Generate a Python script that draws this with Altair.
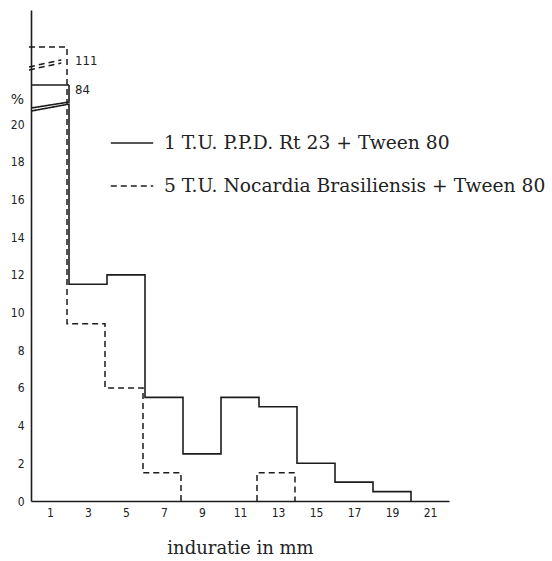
import altair as alt
import pandas as pd

# ---- data ----
bin_edges = [0, 2, 4, 6, 8, 10, 12, 14, 16, 18, 20]
solid_vals = [84, 11.5, 12.0, 5.5, 2.5, 5.5, 5.0, 2.0, 1.0, 0.5]
dashed_vals = [111, 9.4, 6.0, 1.5, 0, 0, 1.5, 0, 0, 0]
series_names = ["1 T.U. P.P.D. Rt 23 + Tween 80",
                "5 T.U. Nocardia Brasiliensis + Tween 80"]
x_tick_vals = [1, 3, 5, 7, 9, 11, 13, 15, 17, 19, 21]
y_tick_vals = [0, 2, 4, 6, 8, 10, 12, 14, 16, 18, 20]
# axis break: (value at left, value at right) of the slanted cut lines
solid_cut = [(20.69, 21.06), (20.85, 21.17)]
dashed_cut = [(94.7, 99.6), (96.8, 101.8)]
dashed_cut_end = 1.7
top_labels = ["111", "84"]

# broken y scale (piecewise linear)
y_domain = [0, 21.33, 84, 111, 130]
y_range = [491, 89, 75, 37, 0]

INK = "#1c1c1c"


def step_pieces(vals, head):
    pieces = []
    cur = list(head)
    for i in range(1, len(vals)):
        v = vals[i]
        if v > 0:
            if cur is None:
                cur = [(bin_edges[i], 0)]
            cur += [(bin_edges[i], v), (bin_edges[i + 1], v)]
        else:
            if cur is not None:
                cur.append((bin_edges[i], 0))
                pieces.append(cur)
                cur = None
    if cur is not None:
        cur.append((bin_edges[len(vals)], 0))
        pieces.append(cur)
    return pieces


rows = []


def add(series, name, pts):
    for k, (x, y) in enumerate(pts):
        rows.append({"x": x, "y": y, "series": series, "piece": name, "i": k})


# solid series
add(series_names[0], "s_top", [(0, solid_vals[0]), (2, solid_vals[0]),
                                (2, solid_cut[1][1]), (0, solid_cut[1][0])])
for j, p in enumerate(step_pieces(solid_vals, [(0, solid_cut[0][0]), (2, solid_cut[0][1])])):
    add(series_names[0], f"s_main{j}", p)

# dashed series
for j, p in enumerate(step_pieces(dashed_vals, [(0, dashed_vals[0]), (2, dashed_vals[0])])):
    add(series_names[1], f"d_main{j}", p)
for j, (a, b) in enumerate(dashed_cut):
    add(series_names[1], f"d_cut{j}", [(0, a), (dashed_cut_end, b)])

df = pd.DataFrame(rows)
lab = pd.DataFrame({"x": [2, 2], "y": [dashed_vals[0], solid_vals[0]], "t": top_labels})

x_scale = alt.Scale(domain=[0, 22], nice=False, zero=False)
y_scale = alt.Scale(domain=y_domain, range=y_range, nice=False, zero=False)
dash_scale = alt.Scale(domain=series_names, range=[[1, 0], [6, 4]])

SERIF = "DejaVu Serif"

x_enc = alt.X("x:Q", scale=x_scale, axis=alt.Axis(
    values=x_tick_vals, grid=False, ticks=False, domainColor=INK, domainWidth=1.6,
    labelFont="DejaVu Sans Condensed", labelFontSize=12, labelColor="#222",
    labelPadding=6, title="induratie in mm", titleFont=SERIF,
    titleFontSize=18, titleFontWeight="normal", titleColor="#222", titlePadding=21))
y_enc = alt.Y("y:Q", scale=y_scale, axis=alt.Axis(
    values=y_tick_vals, grid=False, ticks=False, domainColor=INK, domainWidth=1.6,
    labelFont="DejaVu Sans Condensed", labelFontSize=12, labelColor="#222",
    labelPadding=7, title="%", titleAngle=0, titleX=-14, titleY=89,
    titleAlign="center", titleBaseline="middle", titleFont="DejaVu Sans",
    titleFontSize=14, titleFontWeight="normal", titleColor="#222"))

legend = alt.Legend(
    title=None, orient="none", legendX=79, legendY=111, symbolType="stroke",
    symbolSize=1800, symbolStrokeWidth=1.5, symbolStrokeColor=INK,
    labelFont=SERIF, labelFontSize=18.7, labelColor="#222",
    labelOffset=10, rowPadding=11, padding=0, labelLimit=500)

solid_layer = alt.Chart(df).transform_filter(
    alt.datum.series == series_names[0]
).mark_line(color=INK, strokeWidth=1.6).encode(
    x=x_enc, y=y_enc, detail="piece:N", order="i:Q",
    strokeDash=alt.StrokeDash("series:N", scale=dash_scale, legend=legend))

dashed_layer = alt.Chart(df).transform_filter(
    alt.datum.series == series_names[1]
).mark_line(color=INK, strokeWidth=1.5, xOffset=-2).encode(
    x="x:Q", y="y:Q", detail="piece:N", order="i:Q",
    strokeDash=alt.StrokeDash("series:N", scale=dash_scale, legend=legend))

lab111 = alt.Chart(lab).transform_filter(alt.datum.t == top_labels[0]).mark_text(
    align="left", baseline="middle", dx=6, dy=14, font="DejaVu Sans Condensed",
    fontSize=13, color="#222").encode(x="x:Q", y="y:Q", text="t:N")
lab84 = alt.Chart(lab).transform_filter(alt.datum.t == top_labels[1]).mark_text(
    align="left", baseline="middle", dx=6, dy=5, font="DejaVu Sans Condensed",
    fontSize=13, color="#222").encode(x="x:Q", y="y:Q", text="t:N")

chart = alt.layer(solid_layer, dashed_layer, lab111, lab84).properties(
    width=418, height=491,
    autosize=alt.AutoSizeParams(type="none"),
    padding={"left": 31, "top": 10, "right": 103, "bottom": 60},
    background="white",
).configure_view(stroke=None)

chart.save("out.html", embed_options={"renderer": "svg", "actions": False})
